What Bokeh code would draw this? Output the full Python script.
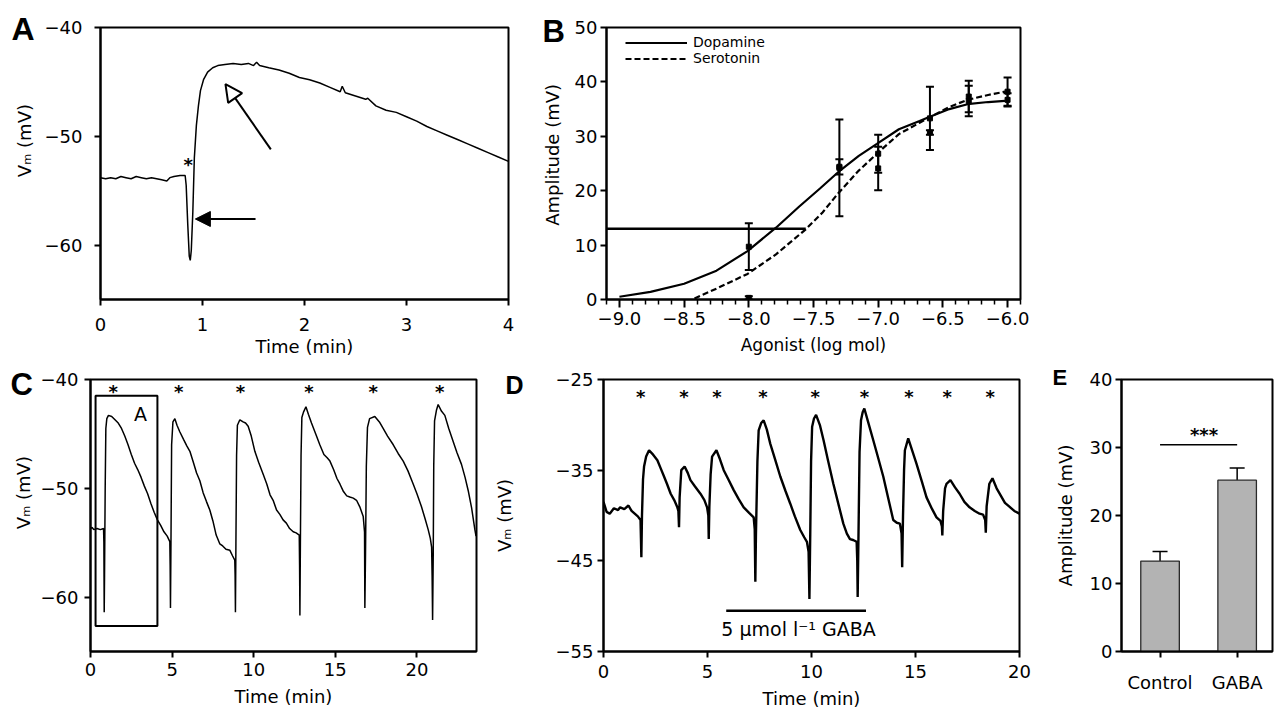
import math
from bokeh.plotting import figure
from bokeh.models import (FixedTicker, Label, Arrow, NormalHead, TeeHead, Whisker,
                          ColumnDataSource, Legend, LegendItem, Spacer)
from bokeh.layouts import row, column
from bokeh.embed import file_html
from bokeh.resources import INLINE
from bokeh.core.properties import value

FONT = "DejaVu Sans"
LFONT = "Liberation Sans"
MINUS = "\u2212"
NB = "\u00a0"
VM_LABEL = "V\u2098 (mV)"

# ---------------- Panel A data ----------------
a_time = [0.00, 0.05, 0.10, 0.15, 0.20, 0.25, 0.30, 0.35, 0.40, 0.45, 0.50, 0.55, 0.60, 0.65,
          0.68, 0.72, 0.78, 0.83, 0.84, 0.855, 0.87, 0.88, 0.89, 0.905, 0.92, 0.94, 0.96, 0.98,
          1.01, 1.05, 1.10, 1.15, 1.22, 1.30, 1.38, 1.45, 1.50, 1.53, 1.56, 1.65, 1.75, 1.85,
          1.95, 2.05, 2.15, 2.25, 2.35, 2.37, 2.40, 2.50, 2.60, 2.62, 2.70, 2.80, 2.90, 3.00,
          3.10, 3.20, 3.30, 3.40, 3.50, 3.60, 3.70, 3.80, 3.90, 4.00]
a_vm = [-53.8, -53.9, -53.8, -53.9, -53.7, -53.8, -53.9, -53.7, -53.8, -53.9, -53.8, -53.9, -54.0, -54.1,
        -53.8, -53.7, -53.6, -53.6, -54.5, -58.0, -61.0, -61.4, -60.5, -57.0, -52.0, -49.0, -47.2, -45.8,
        -44.8, -44.1, -43.7, -43.5, -43.4, -43.3, -43.4, -43.3, -43.5, -43.2, -43.5, -43.7, -43.9, -44.2,
        -44.6, -44.8, -45.1, -45.5, -45.9, -45.4, -46.0, -46.3, -46.6, -46.5, -47.2, -47.6, -47.8, -48.2,
        -48.6, -49.1, -49.5, -49.9, -50.3, -50.7, -51.1, -51.5, -51.9, -52.3]
a_star = (0.86, -52.5)
a_arrow_solid = (1.52, -57.6, 0.93, -57.6)
a_arrow_open = (1.67, -51.2, 1.225, -45.2)
a_xticks = [0, 1, 2, 3, 4]
a_xlabels = ["0", "1", "2", "3", "4"]
a_yticks = [-60, -50, -40]
a_ylabels = [MINUS + "60", MINUS + "50", MINUS + "40"]

# ---------------- Panel B data ----------------
dopa_curve_x = [-9.0, -8.76, -8.5, -8.25, -8.01, -7.79, -7.61, -7.45, -7.31, -7.15, -7.01, -6.84,
                -6.68, -6.61, -6.45, -6.31, -6.15, -6.02]
dopa_curve_y = [0.5, 1.4, 2.9, 5.3, 8.9, 13.2, 17.1, 20.4, 23.4, 26.4, 28.6, 31.3,
                32.8, 33.5, 35.0, 35.9, 36.3, 36.5]
sero_curve_x = [-8.42, -8.25, -8.01, -7.79, -7.56, -7.43, -7.31, -7.15, -7.01, -6.84, -6.68, -6.61,
                -6.45, -6.31, -6.15, -6.02]
sero_curve_y = [0.2, 2.0, 4.7, 8.3, 12.9, 16.0, 19.5, 23.7, 26.8, 30.4, 32.5, 33.4,
                35.4, 36.7, 37.6, 38.2]
dose = [-8.0, -7.3, -7.0, -6.6, -6.3, -6.0]
dopa_mean = [9.7, 24.4, 26.8, 33.3, 36.5, 36.7]
dopa_err = [4.3, 1.4, 3.5, 5.8, 2.8, 1.2]
sero_mean = [0.3, 24.2, 24.1, 30.7, 37.3, 38.2]
sero_err = [0.3, 8.9, 4.0, 0.4, 2.9, 2.6]
ec_level = 13.0
ec_x = [-9.1, -7.56]
b_xticks = [-9.0, -8.5, -8.0, -7.5, -7.0, -6.5, -6.0]
b_xlabels = [MINUS + "9.0", MINUS + "8.5", MINUS + "8.0", MINUS + "7.5", MINUS + "7.0", MINUS + "6.5", MINUS + "6.0"]
b_yticks = [0, 10, 20, 30, 40, 50]
b_ylabels = ["0", "10", "20", "30", "40", "50"]

# ---------------- Panel C data ----------------
c_time = [0.00, 0.10, 0.20, 0.40, 0.60, 0.80, 0.82, 0.84, 0.86, 0.90, 0.94, 1.00, 1.10, 1.30, 1.50,
          1.70, 1.90, 2.10, 2.30, 2.50, 2.70, 2.90, 3.10, 3.30, 3.50, 3.70, 3.90, 4.10, 4.30, 4.50,
          4.70, 4.86, 4.88, 4.90, 4.93, 4.97, 5.05, 5.17, 5.30, 5.47, 5.70, 5.90, 6.09, 6.30, 6.50,
          6.70, 6.90, 7.10, 7.31, 7.50, 7.70, 7.92, 8.10, 8.30, 8.54, 8.70, 8.84, 8.86, 8.88, 8.91,
          8.95, 9.00, 9.15, 9.35, 9.50, 9.66, 9.85, 10.07, 10.30, 10.58, 10.80, 11.00, 11.19, 11.40,
          11.60, 11.80, 12.00, 12.20, 12.42, 12.60, 12.79, 12.81, 12.83, 12.86, 12.90, 12.95, 13.05,
          13.20, 13.35, 13.54, 13.80, 14.05, 14.30, 14.50, 14.67, 14.90, 15.10, 15.28, 15.50, 15.70,
          15.89, 16.10, 16.30, 16.50, 16.71, 16.79, 16.81, 16.85, 16.90, 16.97, 17.10, 17.42, 17.70,
          17.93, 18.20, 18.55, 18.85, 19.16, 19.45, 19.77, 20.00, 20.28, 20.50, 20.69, 20.82, 20.90,
          20.93, 20.96, 21.00, 21.03, 21.08, 21.20, 21.30, 21.50, 21.71, 21.95, 22.22, 22.45, 22.73,
          22.95, 23.14, 23.35, 23.55, 23.62]
c_vm = [-53.7, -53.6, -53.8, -53.7, -53.8, -53.7, -55.0, -61.4, -58.0, -50.0, -44.5, -43.6, -43.3, -43.4, -43.7,
        -44.0, -44.5, -45.2, -46.0, -46.9, -47.7, -48.3, -49.0, -49.8, -50.5, -51.4, -52.2, -52.9, -53.4, -54.0,
        -54.4, -54.9, -57.0, -61.0, -55.0, -46.0, -43.9, -43.6, -44.2, -44.8, -45.5, -46.1, -46.6, -47.6, -48.6,
        -49.3, -50.4, -51.2, -52.0, -53.0, -54.3, -55.1, -55.3, -55.6, -55.7, -56.2, -56.6, -58.0, -61.4, -55.0,
        -47.0, -44.2, -43.7, -43.9, -44.0, -44.3, -45.2, -46.6, -47.6, -48.7, -49.6, -50.6, -51.1, -52.0,
        -52.4, -52.9, -53.2, -53.7, -54.0, -54.1, -54.3, -57.0, -61.7, -55.0, -47.0, -43.5, -43.0,
        -42.5, -43.2, -44.0, -45.0, -46.0, -46.9, -47.2, -47.5, -48.3, -49.1, -49.6, -50.3, -50.7,
        -50.8, -50.9, -51.1, -51.7, -52.6, -54.0, -61.0, -56.0, -48.0, -44.4, -43.6, -43.4, -43.9,
        -44.5, -45.2, -46.0, -46.8, -47.5, -48.4, -49.6, -50.5, -51.7, -52.8, -53.8, -54.6, -55.4,
        -58.0, -62.1, -56.0, -48.0, -43.8, -42.8, -42.3, -42.9, -43.3, -44.5, -45.7, -46.7, -47.8,
        -49.0, -50.2, -51.8, -53.8, -54.4]
c_star_t = [1.39, 5.41, 9.19, 13.38, 17.32, 21.4]
c_star_v = -41.0
c_box_t = [0.31, 4.1]
c_box_v = [-62.65, -41.5]
c_xticks = [0, 5, 10, 15, 20]
c_xlabels = ["0", "5", "10", "15", "20"]
c_yticks = [-60, -50, -40]
c_ylabels = [MINUS + "60", MINUS + "50", MINUS + "40"]

# ---------------- Panel D data ----------------
d_time = [0.00, 0.15, 0.30, 0.50, 0.70, 0.80, 1.00, 1.20, 1.35, 1.50, 1.65, 1.78, 1.80, 1.82, 1.85,
          1.90, 1.95, 2.05, 2.19, 2.35, 2.59, 2.75, 2.91, 3.05, 3.23, 3.40, 3.55, 3.60, 3.63, 3.66,
          3.74, 3.90, 4.05, 4.18, 4.40, 4.66, 4.85, 4.98, 5.04, 5.06, 5.09, 5.15, 5.22, 5.43, 5.60,
          5.78, 6.00, 6.26, 6.50, 6.74, 7.00, 7.22, 7.27, 7.30, 7.33, 7.40, 7.46, 7.58, 7.70, 7.85,
          8.02, 8.25, 8.50, 8.75, 8.98, 9.20, 9.46, 9.65, 9.78, 9.86, 9.90, 9.94, 9.98, 10.03, 10.12,
          10.22, 10.40, 10.58, 10.80, 11.05, 11.30, 11.53, 11.70, 11.85, 12.00, 12.17, 12.20, 12.22,
          12.26, 12.31, 12.38, 12.46, 12.54, 12.70, 12.97, 13.20, 13.45, 13.70, 13.93, 14.10, 14.25,
          14.33, 14.36, 14.40, 14.45, 14.49, 14.65, 14.85, 15.05, 15.30, 15.53, 15.80, 16.01, 16.20,
          16.27, 16.29, 16.33, 16.42, 16.49, 16.68, 16.90, 17.12, 17.35, 17.60, 17.85, 18.08, 18.25,
          18.35, 18.38, 18.42, 18.55, 18.70, 18.90, 19.10, 19.30, 19.50, 19.75, 20.00]
d_vm = [-38.5, -39.6, -39.8, -39.2, -39.4, -39.1, -39.3, -38.9, -39.5, -39.8, -40.1, -40.5, -42.5, -44.6, -40.0,
        -36.0, -34.6, -33.5, -32.8, -33.2, -33.9, -34.8, -35.7, -36.5, -37.6, -38.3, -39.1, -39.5, -41.3, -38.0,
        -35.0, -34.6, -35.3, -36.1, -36.8, -37.6, -38.3, -39.1, -40.0, -42.6, -39.0, -35.5, -33.5, -32.8, -33.8,
        -35.0, -36.0, -37.2, -38.2, -39.1, -39.7, -40.2, -41.5, -47.3, -42.0, -34.0, -30.6, -29.8, -29.5, -30.5,
        -32.1, -33.8, -35.7, -37.3, -38.7, -40.1, -41.6, -42.4, -42.9, -44.0, -49.2, -42.0, -34.0, -30.2, -29.3,
        -28.9, -30.0, -31.7, -34.0, -36.5, -38.8, -40.9, -42.0, -42.6, -42.7, -42.9, -45.0, -49.0,
        -42.0, -33.0, -29.5, -28.6, -28.2, -29.5, -31.7, -33.6, -35.7, -38.2, -40.5, -40.8, -40.9,
        -42.0, -45.7, -40.0, -35.0, -32.8, -31.5, -32.9, -34.3, -36.2, -38.0, -39.3, -40.2, -40.6,
        -41.2, -42.2, -39.5, -37.0, -36.5, -36.1, -36.9, -37.6, -38.5, -39.1, -39.5, -39.8, -39.9,
        -40.5, -41.9, -39.0, -36.5, -35.9, -37.0, -37.8, -38.6, -39.0, -39.5, -39.8]
d_star_t = [1.79, 3.87, 5.46, 7.67, 10.18, 12.54, 14.68, 16.53, 18.59]
d_star_v = -26.8
gaba_on, gaba_off, gaba_level = 5.9, 12.62, -50.5
gaba_text = "5 \u00b5mol l\u207b\u00b9 GABA"
d_xticks = [0, 5, 10, 15, 20]
d_xlabels = ["0", "5", "10", "15", "20"]
d_yticks = [-55, -45, -35, -25]
d_ylabels = [MINUS + "55", MINUS + "45", MINUS + "35", MINUS + "25"]

# ---------------- Panel E data ----------------
e_groups = ["Control", "GABA"]
e_pos = [1, 2]
e_mean = [13.3, 25.2]
e_sem = [1.4, 1.8]
e_sig_level = 30.4
e_yticks = [0, 10, 20, 30, 40]
e_ylabels = ["0", "10", "20", "30", "40"]


# ---------------- helpers ----------------
def make_fig(W, H, L, R, T, B, xr, yr, ox, oy):
    p = figure(width=W, height=H, x_range=xr, y_range=yr, output_backend="svg",
               toolbar_location=None, tools="", min_border_left=L, min_border_right=R,
               min_border_top=T, min_border_bottom=B)
    p.xgrid.visible = False
    p.ygrid.visible = False
    p.outline_line_color = "black"
    p.outline_line_width = 2
    p.outline_line_alpha = 1.0
    p.background_fill_color = "white"
    p.border_fill_color = "white"
    frame = (ox + L, oy + T, ox + W - R, oy + H - B)
    return p, frame


def style_axis(ax, ticks, labels, size="18px", tick_out=6, standoff=5, minor=None):
    if minor is None:
        ax.ticker = FixedTicker(ticks=ticks)
        ax.minor_tick_line_color = None
    else:
        ax.ticker = FixedTicker(ticks=ticks, minor_ticks=minor)
        ax.minor_tick_line_color = "black"
        ax.minor_tick_line_width = 1.5
        ax.minor_tick_out = 5
        ax.minor_tick_in = 0
    ax.major_label_overrides = {t: l for t, l in zip(ticks, labels)}
    ax.axis_line_color = "black"
    ax.axis_line_width = 2
    ax.major_tick_line_color = "black"
    ax.major_tick_line_width = 2
    ax.major_tick_out = tick_out
    ax.major_tick_in = 0
    ax.major_label_text_font = FONT
    ax.major_label_text_font_size = size
    ax.major_label_text_color = "black"
    ax.major_label_standoff = standoff
    ax.axis_label_text_font = FONT
    ax.axis_label_text_font_style = "normal"
    ax.axis_label_text_color = "black"
    ax.axis_label_text_font_size = "18px"


def put_label(p, frame, text, px, py, size, style="normal", font=FONT, align="left",
              baseline="alphabetic"):
    l, t, r, b = frame
    xs, xe = p.x_range.start, p.x_range.end
    ys, ye = p.y_range.start, p.y_range.end
    x = xs + (px - l) / (r - l) * (xe - xs)
    y = ye - (py - t) / (b - t) * (ye - ys)
    p.add_layout(Label(x=x, y=y, text=text, text_font=font, text_font_size=f"{size}px",
                       text_font_style=style, text_align=align,
                       text_baseline=baseline, text_color="black"))


def panel_letter(p, frame, ch, left_px, baseline_px, size):
    # title bottom sits at frame_top - standoff/2; baseline = bottom - descent
    standoff = -2 * (baseline_px - frame[1] + 0.212 * size)
    t = p.title
    t.text = ch
    t.align = "left"
    t.vertical_align = "bottom"
    t.offset = left_px - frame[0]
    t.standoff = standoff
    t.text_font = LFONT
    t.text_font_size = f"{size}px"
    t.text_font_style = "bold"
    t.text_color = "black"


def stars(p, xs, yv):
    p.text(x=xs, y=[yv] * len(xs), text=["*"] * len(xs), text_font=value(FONT),
           text_font_style="bold", text_font_size="18px", text_align="center",
           text_baseline="alphabetic", y_offset=1, text_color="black")


TOP_H, BOT_H = 362, 352

# ---------------- Panel A ----------------
pA, fA = make_fig(535, TOP_H, 100, 27, 27, 63, (0, 4), (-65, -40), 0, 0)
style_axis(pA.xaxis[0], a_xticks, a_xlabels, standoff=12)
style_axis(pA.yaxis[0], a_yticks, a_ylabels, standoff=12)
pA.xaxis[0].axis_label = "Time (min)"
pA.xaxis[0].axis_label_standoff = 2
pA.yaxis[0].axis_label = NB * 8 + VM_LABEL
pA.yaxis[0].axis_label_standoff = 7
pA.line(a_time, a_vm, line_color="black", line_width=1.5)
stars(pA, [a_star[0]], a_star[1])
pA.add_layout(Arrow(x_start=a_arrow_solid[0], y_start=a_arrow_solid[1], x_end=a_arrow_solid[2],
                    y_end=a_arrow_solid[3], line_width=2, line_color="black",
                    end=NormalHead(size=15, fill_color="black", line_color="black", line_width=1)))
pA.add_layout(Arrow(x_start=a_arrow_open[0], y_start=a_arrow_open[1], x_end=a_arrow_open[2],
                    y_end=a_arrow_open[3], line_width=2, line_color="black",
                    end=NormalHead(size=17, fill_color="white", line_color="black", line_width=2)))
panel_letter(pA, fA, "A", 11, 40, 32)

# ---------------- Panel B ----------------
pB, fB = make_fig(515, TOP_H, 71, 30, 25, 61, (-9.1, -5.9), (0, 50), 535, 0)
b_minor = [round(-9.1 + 0.1 * i, 1) for i in range(33) if round((-9.1 + 0.1 * i) * 10) % 5 != 0]
style_axis(pB.xaxis[0], b_xticks, b_xlabels, tick_out=8, standoff=4, minor=b_minor)
style_axis(pB.yaxis[0], b_yticks, b_ylabels, standoff=3)
pB.xaxis[0].axis_label = "Agonist (log mol)"
pB.xaxis[0].axis_label_standoff = 7
pB.xaxis[0].axis_label_text_font_size = "17px"
pB.yaxis[0].axis_label = NB * 3 + "Amplitude (mV)"
pB.yaxis[0].axis_label_standoff = 9
pB.line(ec_x, [ec_level, ec_level], line_color="black", line_width=2.5)
r_dopa = pB.line(dopa_curve_x, dopa_curve_y, line_color="black", line_width=2.2)
r_sero = pB.line(sero_curve_x, sero_curve_y, line_color="black", line_width=2.2, line_dash="6 3")
for mean, err in ((dopa_mean, dopa_err), (sero_mean, sero_err)):
    src = ColumnDataSource(dict(x=dose, y=mean,
                                upper=[m + e for m, e in zip(mean, err)],
                                lower=[m - e for m, e in zip(mean, err)]))
    pB.add_layout(Whisker(source=src, base="x", upper="upper", lower="lower", line_width=2,
                          line_color="black",
                          upper_head=TeeHead(size=8, line_width=2, line_color="black"),
                          lower_head=TeeHead(size=8, line_width=2, line_color="black")))
    pB.scatter("x", "y", source=src, marker="square", size=5, color="black")
legB = Legend(items=[LegendItem(label="Dopamine", renderers=[r_dopa]),
                     LegendItem(label="Serotonin", renderers=[r_sero])],
              location=(19, 233), margin=0, padding=0, spacing=0,
              glyph_width=62, glyph_height=15, label_height=15, label_standoff=6,
              label_text_font=FONT, label_text_font_size="14px", label_text_color="black",
              border_line_color=None, background_fill_alpha=0)
pB.add_layout(legB)
panel_letter(pB, fB, "B", 542, 40, 31)

# ---------------- Panel C ----------------
pC, fC = make_fig(490, BOT_H, 90, 14, 15, 61, (0, 23.65), (-65, -40), 0, 362)
style_axis(pC.xaxis[0], c_xticks, c_xlabels, standoff=5)
style_axis(pC.yaxis[0], c_yticks, c_ylabels, standoff=6)
pC.xaxis[0].axis_label = "Time (min)"
pC.xaxis[0].axis_label_standoff = 7
pC.yaxis[0].axis_label = NB * 8 + VM_LABEL
pC.yaxis[0].axis_label_standoff = 4
pC.line(c_time, c_vm, line_color="black", line_width=1.5)
pC.quad(left=[c_box_t[0]], right=[c_box_t[1]], bottom=[c_box_v[0]], top=[c_box_v[1]],
        fill_color=None, line_color="black", line_width=2)
stars(pC, c_star_t, c_star_v)
put_label(pC, fC, "A", 140, 412, 19, align="center")
panel_letter(pC, fC, "C", 10, 393, 31)

# ---------------- Panel D ----------------
pD, fD = make_fig(550, BOT_H, 113, 21, 17, 63, (0, 20), (-55, -25), 490, 362)
style_axis(pD.xaxis[0], d_xticks, d_xlabels, standoff=7)
style_axis(pD.yaxis[0], d_yticks, d_ylabels, standoff=4)
pD.xaxis[0].axis_label = "Time (min)"
pD.xaxis[0].axis_label_standoff = 7
pD.yaxis[0].axis_label = VM_LABEL
pD.yaxis[0].axis_label_standoff = 38
pD.line(d_time, d_vm, line_color="black", line_width=2.4)
pD.line([gaba_on, gaba_off], [gaba_level, gaba_level], line_color="black", line_width=2.5)
stars(pD, d_star_t, d_star_v)
put_label(pD, fD, gaba_text, 798, 628, 19, align="center")
panel_letter(pD, fD, "D", 505, 393, 25)

# ---------------- Panel E ----------------
pE, fE = make_fig(234, BOT_H, 81, 2, 17, 62, (0.5, 0.5 + 151 / 77.1), (0, 40), 1040, 362)
style_axis(pE.xaxis[0], e_pos, e_groups, standoff=14)
style_axis(pE.yaxis[0], e_yticks, e_ylabels, standoff=3)
pE.yaxis[0].axis_label = "Amplitude (mV)"
pE.yaxis[0].axis_label_standoff = 11
pE.vbar(x=e_pos, top=e_mean, width=0.5, fill_color="#b3b3b3", line_color="#2a2a2a", line_width=1.3)
srcE = ColumnDataSource(dict(x=e_pos, lower=e_mean, upper=[m + s for m, s in zip(e_mean, e_sem)]))
pE.add_layout(Whisker(source=srcE, base="x", upper="upper", lower="lower", line_width=1.5,
                      line_color="black", lower_head=None,
                      upper_head=TeeHead(size=15, line_width=1.5, line_color="black")))
pE.line([e_pos[0], e_pos[1]], [e_sig_level, e_sig_level], line_color="black", line_width=1.5)
put_label(pE, fE, "***", 1203.5, 434, 18, style="bold", align="center")
panel_letter(pE, fE, "E", 1052, 385, 22)

layout = column(row(pA, pB, Spacer(width=224, height=TOP_H)),
                row(pC, pD, pE))

open("out.html", "w").write(file_html(layout, INLINE))
